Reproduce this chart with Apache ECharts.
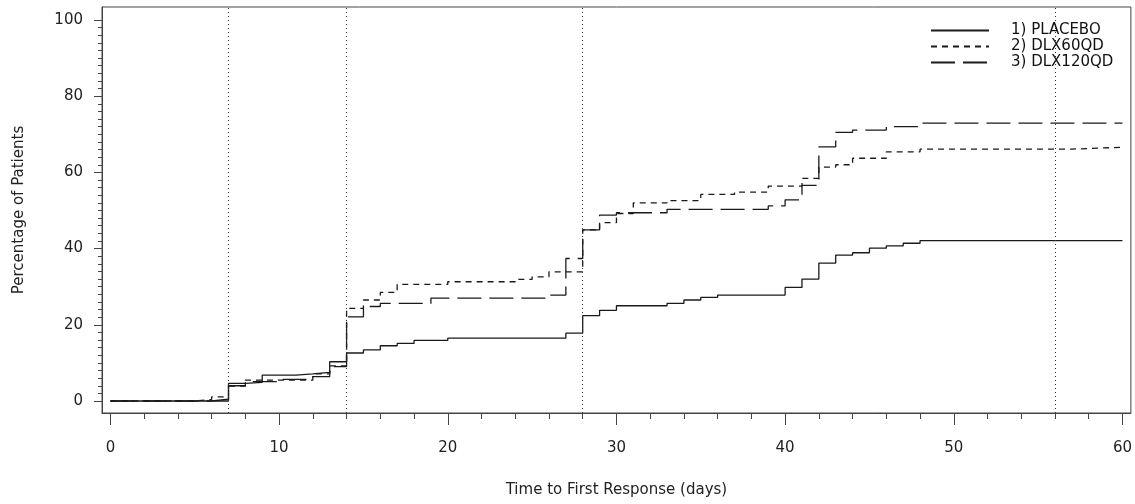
<!DOCTYPE html>
<html>
<head>
<meta charset="utf-8">
<script src="https://cdn.jsdelivr.net/npm/echarts@6/dist/echarts.min.js"></script>
<style>
html,body{margin:0;padding:0;background:#fff;}
#chart{width:1135px;height:504px;}
</style>
</head>
<body>
<div id="chart"></div>
<script>
// ---- data ----
const seriesNames = ['1) PLACEBO', '2) DLX60QD', '3) DLX120QD'];

const placeboDays = [0,7,8,9,11,12,13,14,15,16,17,18,20,27,28,29,30,33,34,35,36,40,41,42,43,44,45,46,47,48,60];
const placeboPct  = [0,4.6,4.9,6.8,7.1,7.5,10.3,12.6,13.4,14.5,15.1,15.9,16.5,17.8,22.4,23.8,25.0,25.6,26.5,27.2,27.8,29.8,32.0,36.2,38.3,38.9,40.1,40.7,41.4,42.1,42.1];

const dlx60Days = [0,5,6,7,8,12,13,14,15,16,17,20,24,25,26,28,29,30,31,33,35,37,39,41,42,43,44,46,48,57,60];
const dlx60Pct  = [0,0.4,1.1,3.9,5.5,7.1,9.2,24.3,26.5,28.5,30.6,31.3,31.9,32.6,33.9,44.9,46.8,49.2,52.0,52.6,54.2,54.8,56.4,58.4,61.4,62.0,63.7,65.4,66.1,66.6,66.6];

const dlx120Days = [0,6,7,8,10,12,13,14,15,16,19,26,27,28,29,30,33,39,40,41,42,43,44,46,48,60];
const dlx120Pct  = [0,0.5,4.0,5.1,5.7,6.4,9.0,22.1,24.8,25.6,27.0,27.8,37.4,44.9,48.8,49.4,50.3,51.2,52.8,56.6,66.7,70.5,71.1,72.0,72.9,72.9];

const refDays = [7,14,28,56];

const xMajorTicks = [0,10,20,30,40,50,60];
const xMinorTicks = [2,4,6,8,12,14,16,18,22,24,26,28,32,34,36,38,42,44,46,48,52,54,56,58];
const yMajorTicks = [0,20,40,60,80,100];
const yMinorTicks = [2,4,6,8,10,12,14,16,18,22,24,26,28,30,32,34,36,38,42,44,46,48,50,52,54,56,58,62,64,66,68,70,72,74,76,78,82,84,86,88,90,92,94,96,98];

const xTitle = 'Time to First Response (days)';
const yTitle = 'Percentage of Patients';

// ---- chart ----
const FONT = 'DejaVu Sans';
const AX = '#444';
const LINE = '#1a1a1a';
const pair = (xs, ys) => xs.map((x, i) => [x, ys[i]]);

const xRange = {min: -0.5, max: 60.5};
const yRange = {min: -3.15, max: 103.4};

const chart = echarts.init(document.getElementById('chart'), null, {renderer: 'canvas'});
chart.setOption({
  animation: false,
  backgroundColor: '#fff',
  grid: {left: 102, top: 7, right: 3, bottom: 91, show: true, borderColor: AX, borderWidth: 1, containLabel: false},
  legend: {
    orient: 'vertical', left: 930, top: 23, padding: 0, itemWidth: 58, itemHeight: 14, itemGap: 1,
    itemStyle: {opacity: 0, borderWidth: 0},
    textStyle: {fontFamily: FONT, fontSize: 15, color: '#111', padding: [0, 0, 0, 17]},
    data: seriesNames
  },
  xAxis: [
    {
      type: 'value', min: xRange.min, max: xRange.max, position: 'bottom',
      name: xTitle, nameLocation: 'middle', nameGap: 70,
      nameTextStyle: {fontFamily: FONT, fontSize: 15, color: '#222'},
      splitLine: {show: false},
      axisLine: {show: true, onZero: false, lineStyle: {color: AX, width: 1}},
      axisTick: {show: true, inside: false, length: 12, customValues: xMajorTicks, lineStyle: {color: AX}},
      axisLabel: {show: true, customValues: xMajorTicks, margin: 28, fontFamily: FONT, fontSize: 15, color: '#222'}
    },
    {
      type: 'value', min: xRange.min, max: xRange.max, position: 'bottom',
      splitLine: {show: false},
      axisLine: {show: false, onZero: false},
      axisTick: {show: true, inside: false, length: 6, customValues: xMinorTicks, lineStyle: {color: AX}},
      axisLabel: {show: false}
    }
  ],
  yAxis: [
    {
      type: 'value', min: yRange.min, max: yRange.max, position: 'left',
      name: yTitle, nameLocation: 'middle', nameGap: 75, nameRotate: 90,
      nameTextStyle: {fontFamily: FONT, fontSize: 15, color: '#222'},
      splitLine: {show: false},
      axisLine: {show: true, onZero: false, lineStyle: {color: AX, width: 1}},
      axisTick: {show: true, inside: false, length: 8, customValues: yMajorTicks, lineStyle: {color: AX}},
      axisLabel: {show: true, customValues: yMajorTicks, margin: 19, fontFamily: FONT, fontSize: 15, color: '#222'}
    },
    {
      type: 'value', min: yRange.min, max: yRange.max, position: 'left',
      splitLine: {show: false},
      axisLine: {show: false, onZero: false},
      axisTick: {show: true, inside: false, length: 4, customValues: yMinorTicks, lineStyle: {color: AX}},
      axisLabel: {show: false}
    }
  ],
  series: [
    {
      name: seriesNames[0], type: 'line', step: 'end', symbol: 'none',
      xAxisIndex: 0, yAxisIndex: 0,
      data: pair(placeboDays, placeboPct),
      lineStyle: {color: LINE, width: 1.3, type: 'solid'},
      itemStyle: {color: LINE},
      markLine: {
        silent: true, symbol: 'none', label: {show: false},
        lineStyle: {color: '#333', width: 1, type: [1, 3]},
        data: refDays.map(d => ({xAxis: d}))
      }
    },
    {
      name: seriesNames[1], type: 'line', step: 'end', symbol: 'none',
      xAxisIndex: 0, yAxisIndex: 0,
      data: pair(dlx60Days, dlx60Pct),
      lineStyle: {color: LINE, width: 1.3, type: [6, 5]},
      itemStyle: {color: LINE}
    },
    {
      name: seriesNames[2], type: 'line', step: 'end', symbol: 'none',
      xAxisIndex: 0, yAxisIndex: 0,
      data: pair(dlx120Days, dlx120Pct),
      lineStyle: {color: LINE, width: 1.3, type: [24, 8]},
      itemStyle: {color: LINE}
    }
  ]
});
</script>
</body>
</html>
